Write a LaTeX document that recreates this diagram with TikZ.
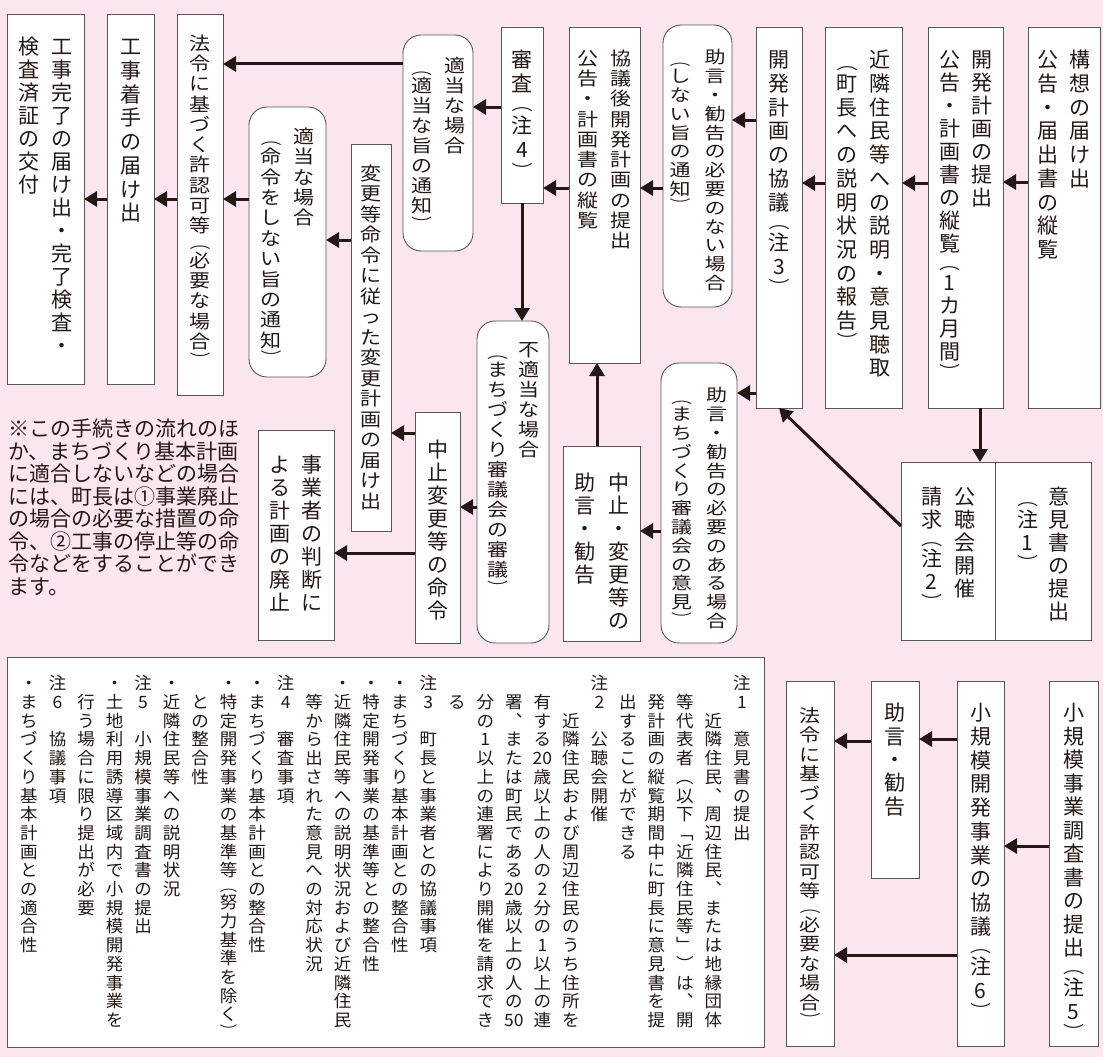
\documentclass[tikz,border=0pt]{standalone}
\usepackage{fontspec}
\usepackage{tikz}
\usetikzlibrary{arrows.meta}
\newfontfamily\jp{Noto Sans CJK JP}
\definecolor{bgpink}{RGB}{251,230,240}
\definecolor{ink}{RGB}{35,24,21}
\definecolor{linegray}{RGB}{89,87,87}
\newcommand\fpL{︵}
\newcommand\fpR{︶}
\ExplSyntaxOn
\dim_new:N \l_tate_pitch_dim
\dim_new:N \l_tate_cell_dim
\dim_new:N \l_tate_colw_dim
\fp_new:N \l_tate_sy_fp
\fp_new:N \l_tate_cy_fp
\seq_new:N \l_tate_cols_seq
\box_new:N \l_tate_glyph_box
\cs_new_protected:Npn \tate_cell:n #1
  {
    \str_case:nnF { #1 }
      {
        { ︵ } { \dim_set:Nn \l_tate_cell_dim { 0.7 \l_tate_pitch_dim } \fp_set:Nn \l_tate_cy_fp { 0.75 * \l_tate_sy_fp } }
        { ︶ } { \dim_set:Nn \l_tate_cell_dim { 0.7 \l_tate_pitch_dim } \fp_set:Nn \l_tate_cy_fp { 0.75 * \l_tate_sy_fp } }
      }
      { \dim_set_eq:NN \l_tate_cell_dim \l_tate_pitch_dim \fp_set_eq:NN \l_tate_cy_fp \l_tate_sy_fp }
    \hbox_set:Nn \l_tate_glyph_box { #1 }
    \box_scale:Nnn \l_tate_glyph_box { 1 } { \l_tate_cy_fp }
    % em box, not ink, decides where the glyph sits in its cell
    \box_set_ht:Nn \l_tate_glyph_box { \fp_to_dim:n { 0.88 * \l_tate_cy_fp * \dim_to_fp:n { 1em } } }
    \box_set_dp:Nn \l_tate_glyph_box { \fp_to_dim:n { 0.12 * \l_tate_cy_fp * \dim_to_fp:n { 1em } } }
    \vbox_to_ht:nn { \l_tate_cell_dim }
      {
        \vss
        \hbox_to_wd:nn { \l_tate_colw_dim } { \hss \box_use_drop:N \l_tate_glyph_box \hss }
        \vss
      }
  }
\cs_new_protected:Npn \tate_col:n #1
  {
    \hbox_to_wd:nn { \l_tate_colw_dim }
      {
        \hss
        \vbox_top:n { \offinterlineskip \tl_map_inline:nn { #1 } { \tate_cell:n { ##1 } } }
        \hss
      }
  }
% \tate[column pitch]{width}{height}{top pad}{character pitch}{column|column|...}
\NewDocumentCommand \tate { O{33} m m m m m }
  {
    \dim_set:Nn \l_tate_colw_dim { #1 pt }
    \dim_set:Nn \l_tate_pitch_dim { #5 pt }
    \fp_set:Nn \l_tate_sy_fp { min ( 1 , #5 / ( 1.1 * \dim_to_fp:n { 1em } ) ) }
    \seq_set_split:Nnn \l_tate_cols_seq { | } { #6 }
    \seq_reverse:N \l_tate_cols_seq
    \vbox_to_ht:nn { #3 pt }
      {
        \skip_vertical:n { #4 pt }
        \hbox_to_wd:nn { #2 pt }
          { \hss \seq_map_function:NN \l_tate_cols_seq \tate_col:n \hss }
        \vss
      }
  }
\ExplSyntaxOff
\tikzset{
    box/.style={draw=linegray, line width=0.9pt, fill=white, text=ink, inner sep=0pt,
        outer sep=0pt, anchor=north west, font=\jp\fontsize{21}{21}\selectfont},
    rbox/.style={box, rounded corners=18pt},
    arr/.style={draw=ink, line width=3pt, -{Triangle[length=13pt,width=15pt]}}
}

\begin{document}
\begin{tikzpicture}[x=1pt, y=-1pt]
    % background
    \fill[bgpink] (0,0) rectangle (1103,1057);
    \useasboundingbox (0,0) rectangle (1103,1057);
    % nodes
    \node[box] (koso) at (1028,27) {\tate[32]{72}{381}{21}{23.7}{構想の届け出|公告・届出書の縦覧}};
    \node[box] (teishutsu) at (928,27) {\tate[32]{75}{381}{21}{23}{開発計画の提出|公告・計画書の縦覧︵1カ月間︶}};
    \node[box] (kinrin) at (825,27) {\tate{77}{381}{21}{23.7}{近隣住民等への説明・意見聴取|︵町長への説明状況の報告︶}};
    \node[box] (kyogi) at (756,27) {\tate{46}{381}{21}{23.7}{開発計画の協議︵注3︶}};
    \node[rbox] (nai) at (663,25) {\tate[35]{69}{282}{23}{18.8}{助言・勧告の必要のない場合|︵しない旨の通知︶}};
    \node[box] (kyogigo) at (569,27) {\tate{71}{336}{21}{20.3}{協議後開発計画の提出|公告・計画書の縦覧}};
    \node[box] (shinsa) at (501,27) {\tate{42}{176}{20}{24.5}{審査︵注4︶}};
    \node[rbox] (tekito1) at (403,35) {\tate{70}{216}{21}{20}{適当な場合|︵適当な旨の通知︶}};
    \node[box] (horei) at (177,14) {\tate{46}{381}{19}{20.3}{法令に基づく許認可等︵必要な場合︶}};
    \node[box] (chakushu) at (107,14) {\tate{47}{370}{21}{23.7}{工事着手の届け出}};
    \node[box] (kanryo) at (7,14) {\tate[32]{77}{370}{21}{23}{工事完了の届け出・完了検査・|検査済証の交付}};
    \node[rbox] (tekito2) at (249,107) {\tate{77}{270}{19}{20.4}{適当な場合|︵命令をしない旨の通知︶}};
    \node[box] (henko) at (351,144) {\tate{40}{387}{19}{20.5}{変更等命令に従った変更計画の届け出}};
    \node[box] (kochokai) at (901,462) {\tate{94}{178}{23}{23}{公聴会開催|請求︵注2︶}};
    \node[box] (ikensho) at (995,462) {\tate[31]{96}{178}{23}{23}{意見書の提出|︵注1︶}};
    \node[rbox] (aru) at (661,363) {\tate[35]{76}{280}{23}{18.8}{助言・勧告の必要のある場合|︵まちづくり審議会の意見︶}};
    \node[box] (chushi) at (563,446) {\tate[34]{77}{195}{25}{23}{中止・変更等の|助言・勧告}};
    \node[rbox] (futekito) at (477,321) {\tate[31]{72}{322}{19}{20}{不適当な場合|︵まちづくり審議会の審議︶}};
    \node[box] (meirei) at (415,412) {\tate{45}{231}{26}{23}{中止変更等の命令}};
    \node[box] (haishi) at (258,430) {\tate[32]{76}{210}{23}{23}{事業者の判断に|よる計画の廃止}};
    \node[anchor=north west, inner sep=0pt, align=left, text=ink,
        font=\jp\fontsize{21}{22.5}\selectfont] (note) at (8,419)
        {※この手続きの流れのほ\\か、まちづくり基本計画\\に適合しないなどの場合\\には、町長は①事業廃止\\の場合の必要な措置の命\\令、②工事の停止等の命\\令などをすることができ\\ます。};
    % notes
    \node[box, font=\jp\fontsize{17.5}{17.5}\selectfont] (notes) at (7,657) {\tate[28.52]{757}{390}{17}{18.7}{%
        注1　意見書の提出|　　近隣住民︑周辺住民︑または地縁団体|　等代表者{\fpL}以下﹁近隣住民等﹂{\fpR}は︑開|%
        　発計画の縦覧期間中に町長に意見書を提|　出することができる|注2　公聴会開催|%
        　　近隣住民および周辺住民のうち住所を|　有する{20}歳以上の人の2分の1以上の連|%
        　署︑または町民である{20}歳以上の人の{50}|　分の1以上の連署により開催を請求でき|　る|%
        注3　町長と事業者との協議事項|・まちづくり基本計画との整合性|・特定開発事業の基準等との整合性|%
        ・近隣住民等への説明状況および近隣住民|　等から出された意見への対応状況|注4　審査事項|%
        ・まちづくり基本計画との整合性|・特定開発事業の基準等︵努力基準を除く︶|　との整合性|%
        ・近隣住民等への説明状況|注5　小規模事業調査書の提出|・土地利用誘導区域内で小規模開発事業を|%
        　行う場合に限り提出が必要|注6　協議事項|・まちづくり基本計画との適合性}};
    % small scale flow
    \node[box] (chosa) at (1049,681) {\tate{49}{365}{20}{23.5}{小規模事業調査書の提出︵注5︶}};
    \node[box] (shokibo) at (957,681) {\tate{47}{365}{20}{23.7}{小規模開発事業の協議︵注6︶}};
    \node[box] (jogen2) at (871,681) {\tate{48}{197}{20}{23.4}{助言・勧告}};
    \node[box] (horei2) at (786,681) {\tate{48}{365}{25}{19.5}{法令に基づく許認可等︵必要な場合︶}};
    % arrows
    \foreach \a/\b/\y in {koso/teishutsu/182, teishutsu/kinrin/183, kinrin/kyogi/183,
            kyogi/nai/120, kyogi/aru/393, nai/kyogigo/188, kyogigo/shinsa/188,
            shinsa/tekito1/107, tekito1/horei/64, aru/chushi/531, futekito/meirei/507,
            meirei/henko/433, meirei/haishi/553, henko/tekito2/240, tekito2/horei/199,
            horei/chakushu/199, chakushu/kanryo/199, chosa/shokibo/846,
            shokibo/jogen2/739, jogen2/horei2/741, shokibo/horei2/955}
        \draw[arr] (\a.west |- 0,\y) -- (\b.east |- 0,\y);
    \draw[arr] (shinsa.south) -- (shinsa.south |- futekito.north);
    \draw[arr] (chushi.north -| 597,0) -- (kyogigo.south -| 597,0);
    \draw[arr] (teishutsu.south -| 980,0) -- (kochokai.north -| 980,0);
    \draw[arr] (kochokai.west |- 0,526) -- (kyogi.south);
\end{tikzpicture}
\end{document}
